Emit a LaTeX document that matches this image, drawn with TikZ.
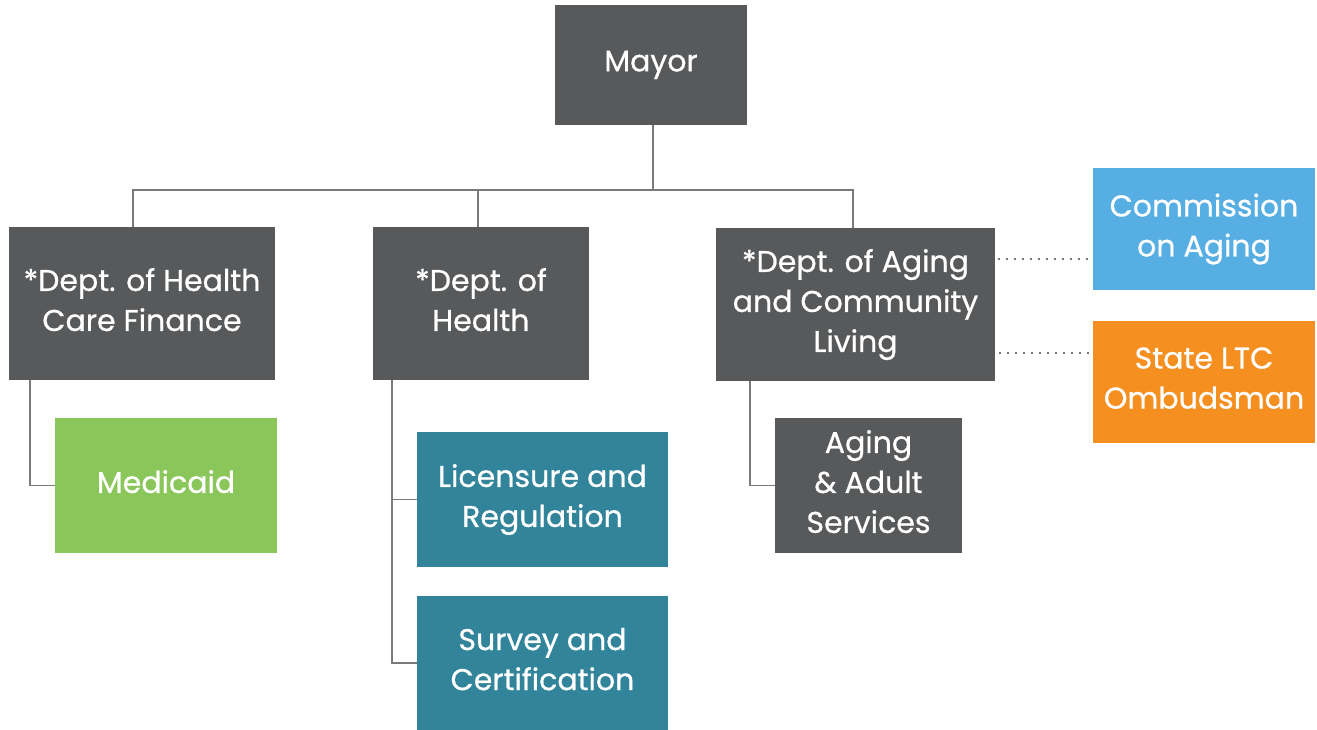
\documentclass[tikz,border=0pt]{standalone}
\usepackage{fontspec}
\setmainfont{Poppins}
\newfontfamily\boxfont{Poppins}[FakeBold=0.7]
\usetikzlibrary{positioning}

\definecolor{boxgray}{HTML}{58595B}
\definecolor{boxgreen}{HTML}{8BC65A}
\definecolor{boxteal}{HTML}{318499}
\definecolor{boxblue}{HTML}{56AEE2}
\definecolor{boxorange}{HTML}{F48F20}
\definecolor{linegray}{HTML}{7A7A7A}

\begin{document}
\begin{tikzpicture}[
    x=1pt, y=-1pt,
    unit/.style={rectangle, fill=boxgray, text=white, align=center, inner sep=0pt,
                 text depth=8pt,
                 font=\boxfont\fontsize{30}{40}\selectfont},
    conn/.style={draw=linegray, line width=1.6pt},
    link/.style={draw=linegray, line width=1.8pt, dash pattern=on 1.6pt off 6.4pt}
]
\useasboundingbox (0,0) rectangle (1317,730);

% top level
\node[unit, minimum width=192, minimum height=120] (mayor) at (651,65) {Mayor};

% departments
\node[unit, minimum width=266, minimum height=153] (hcf) at (142,303.5) {*Dept. of Health\\Care Finance};
\node[unit, minimum width=216, minimum height=153] (doh) at (481,303.5) {*Dept. of\\Health};
\node[unit, minimum width=279, minimum height=153] (dacl) at (855.5,304.5) {*Dept. of Aging\\and Community\\Living};

% offices under departments
\node[unit, fill=boxgreen, minimum width=222, minimum height=135] (medicaid) at (166,485.5) {Medicaid};
\node[unit, fill=boxteal, minimum width=251, minimum height=135] (licensure) at (542.5,499.5) {Licensure and\\Regulation};
\node[unit, fill=boxteal, minimum width=251, minimum height=134] (survey) at (542.5,663) {Survey and\\Certification};
\node[unit, minimum width=187, minimum height=135] (adult) at (868.5,485.5) {Aging\\\& Adult\\Services};

% advisory bodies
\node[unit, fill=boxblue, minimum width=222, minimum height=122] (commission) at (1204,229) {Commission\\on Aging};
\node[unit, fill=boxorange, minimum width=222, minimum height=122] (ombudsman) at (1204,382) {State LTC\\Ombudsman};

% tree
\coordinate (bus) at (0,190);
\draw[conn] ([xshift=2]mayor.south) -- ([xshift=2]mayor.south |- bus);
\draw[conn] ([xshift=-9]hcf.north) |- ([xshift=-2.5]dacl.north |- bus) -- ([xshift=-2.5]dacl.north);
\draw[conn] ([xshift=-3]doh.north) -- ([xshift=-3]doh.north |- bus);

\draw[conn] ([xshift=21]hcf.south west) |- (medicaid.west);
\draw[conn] ([xshift=19]doh.south west) |- (licensure.west);
\draw[conn] ([xshift=19]doh.south west) |- (survey.west);
\draw[conn] ([xshift=34]dacl.south west) |- (adult.west);

% dotted links
\draw[link] ([xshift=3]dacl.east |- 0,259) -- ([xshift=-3]commission.west |- 0,259);
\draw[link] ([xshift=4]dacl.east |- 0,353) -- ([xshift=-2]ombudsman.west |- 0,353);

\end{tikzpicture}
\end{document}
